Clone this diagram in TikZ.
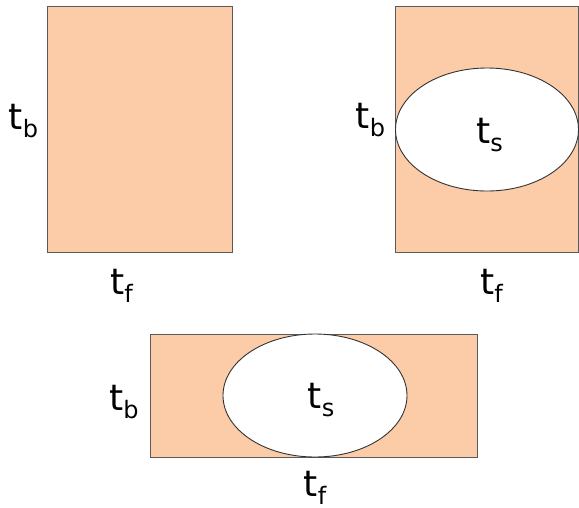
\documentclass[tikz,border=0pt]{standalone}
\usepackage{fontspec}
\setmainfont{DejaVu Sans}
\definecolor{peach}{RGB}{252,203,167}
\definecolor{edge}{RGB}{90,90,90}
\newcommand{\lbl}[2]{\fontsize{36}{36}\selectfont #1\raisebox{-8pt}{\fontsize{24}{24}\selectfont #2}}
\begin{document}
\begin{tikzpicture}[x=1pt,y=-1pt,
  panel/.style={fill=peach,draw=edge,line width=0.9pt},
  hole/.style={fill=white,draw=black!80,line width=0.9pt},
  lab/.style={anchor=base,inner sep=0pt,outer sep=0pt}]
\useasboundingbox (0,0) rectangle (579,507);
% panel 1
\draw[panel] (47,6) rectangle (232,252);
\node[lab] (tb1) at (23.5,129) {\lbl{t}{b}};
\node[lab] (tf1) at (121.5,294) {\lbl{t}{f}};
% panel 2
\draw[panel] (395,6) rectangle (578.6,252);
\draw[hole] (487,129.5) ellipse [x radius=91.5, y radius=61.5];
\node[lab] (tb2) at (370.5,128) {\lbl{t}{b}};
\node[lab] (ts2) at (489.5,143) {\lbl{t}{s}};
\node[lab] (tf2) at (491.5,294) {\lbl{t}{f}};
% panel 3
\draw[panel] (150,334) rectangle (477,457);
\draw[hole] (315,395.5) ellipse [x radius=92, y radius=61.5];
\node[lab] (tb3) at (124,410) {\lbl{t}{b}};
\node[lab] (ts3) at (321,408) {\lbl{t}{s}};
\node[lab] (tf3) at (315,496) {\lbl{t}{f}};
\end{tikzpicture}
\end{document}
